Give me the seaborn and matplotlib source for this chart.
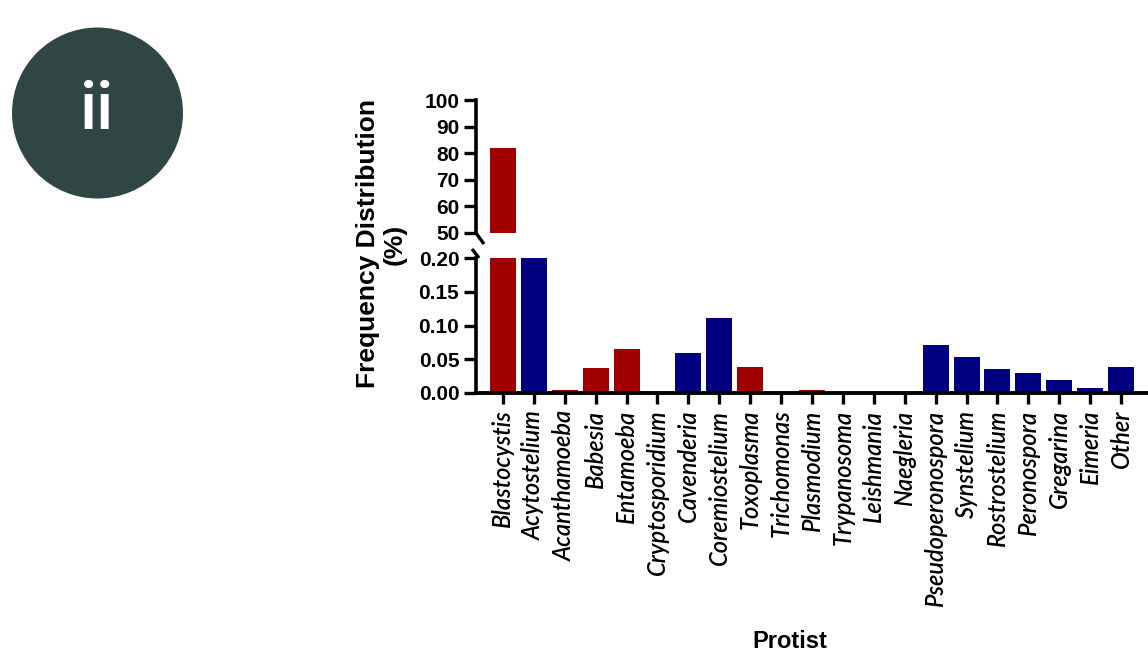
import matplotlib
matplotlib.use("Agg")
import matplotlib.pyplot as plt
from matplotlib.patches import Circle
from matplotlib.lines import Line2D
import seaborn as sns
import pandas as pd

protists = ["Blastocystis", "Acytostelium", "Acanthamoeba", "Babesia", "Entamoeba",
            "Cryptosporidium", "Cavenderia", "Coremiostelium", "Toxoplasma", "Trichomonas",
            "Plasmodium", "Trypanosoma", "Leishmania", "Naegleria", "Pseudoperonospora",
            "Synstelium", "Rostrostelium", "Peronospora", "Gregarina", "Eimeria", "Other"]
frequency = [82.0, 0.20, 0.005, 0.037, 0.065,
             0.0, 0.059, 0.111, 0.0385, 0.0,
             0.004, 0.0, 0.0, 0.0, 0.0705,
             0.054, 0.036, 0.030, 0.020, 0.007, 0.0385]
group = ["pathogen", "free", "pathogen", "pathogen", "pathogen",
         "pathogen", "free", "free", "pathogen", "pathogen",
         "pathogen", "pathogen", "pathogen", "pathogen", "free",
         "free", "free", "free", "free", "free", "free"]
palette = {"pathogen": "#A00000", "free": "#000080"}

top_ticks = [50, 60, 70, 80, 90, 100]
bottom_ticks = [0.00, 0.05, 0.10, 0.15, 0.20]

df = pd.DataFrame({"Protist": protists, "Frequency": frequency, "Group": group})

sns.set_theme(style="white")
plt.rcParams["font.family"] = ["Liberation Sans", "DejaVu Sans"]
plt.rcParams.update({"text.color": "black", "axes.labelcolor": "black",
                     "xtick.color": "black", "ytick.color": "black"})

W, H = 1148, 656
fig = plt.figure(figsize=(W / 100, H / 100), dpi=100)

def fig_rect(x0, y0, x1, y1):
    return [x0 / W, 1 - y1 / H, (x1 - x0) / W, (y1 - y0) / H]

ax_top = fig.add_axes(fig_rect(476, 100, 1148, 233))
ax_bot = fig.add_axes(fig_rect(476, 258, 1148, 393))

for ax in (ax_top, ax_bot):
    sns.barplot(data=df, x="Protist", y="Frequency", hue="Group", palette=palette,
                dodge=False, legend=False, width=0.84, saturation=1,
                edgecolor="none", ax=ax)
    ax.set_xlim(-0.87, 20.87)
    ax.set_ylabel("")
    ax.set_xlabel("")
    for s in ("top", "right"):
        ax.spines[s].set_visible(False)
    ax.spines["left"].set_linewidth(2.6)
    ax.spines["left"].set_color("black")
    ax.tick_params(axis="y", direction="out", length=9, width=2.4, color="black",
                   left=True, pad=3)

ax_top.set_ylim(50, 100)
ax_top.set_yticks(top_ticks)
ax_top.set_yticklabels([str(t) for t in top_ticks], fontsize=15, fontweight="bold")
ax_top.spines["bottom"].set_visible(False)
ax_top.set_xticks([])

ax_bot.set_ylim(0, 0.20)
ax_bot.set_yticks(bottom_ticks)
ax_bot.set_yticklabels([f"{t:.2f}" for t in bottom_ticks], fontsize=15, fontweight="bold")
ax_bot.spines["bottom"].set_linewidth(2.8)
ax_bot.spines["bottom"].set_color("black")
ax_bot.tick_params(axis="x", direction="out", length=8, width=2.4, color="black",
                   bottom=True, pad=4)
ax_bot.set_xticks(range(len(protists)))
ax_bot.set_xticklabels(protists, rotation=90, fontsize=17, fontstyle="italic",
                       fontweight="semibold", family=["Lato", "DejaVu Sans"])

ax_bot.set_xlabel("Protist", fontsize=17, fontweight="bold")
ax_bot.xaxis.set_label_coords((790 - 476) / (1148 - 476), -(641 - 393) / (393 - 258))
ax_bot.xaxis.label.set_va("center")

# axis break marks on the left spine
for (x0, y0, x1, y1) in [(476, 233, 484, 244), (472, 249, 479, 258)]:
    fig.add_artist(Line2D([x0 / W, x1 / W], [1 - y0 / H, 1 - y1 / H],
                          color="black", linewidth=2.4, solid_capstyle="butt"))

fig.text(381 / W, 1 - 244 / H, "Frequency Distribution\n(%)", rotation=90,
         ha="center", va="center", fontsize=19, fontweight="bold",
         linespacing=1.15)

# panel badge
fig.add_artist(Circle((97.5 / 100, (H - 113) / 100), 0.855, transform=fig.dpi_scale_trans,
                      facecolor="#2F4644", edgecolor="none"))
fig.text(97 / W, 1 - 111 / H, "ii", ha="center", va="center", color="white",
         fontsize=48, fontweight="medium", family=["Roboto", "DejaVu Sans"])

fig.savefig("out.png", dpi=100)
